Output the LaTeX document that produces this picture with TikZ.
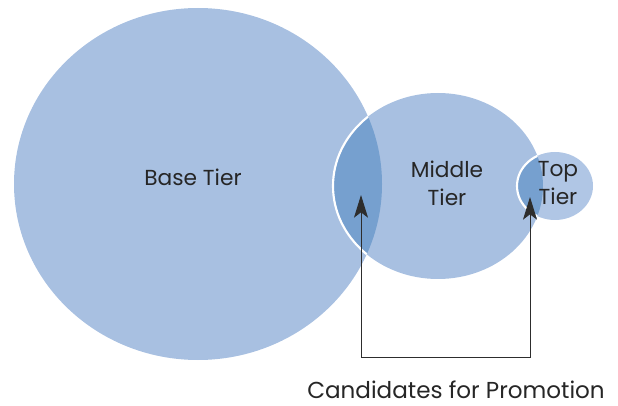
\documentclass[tikz,border=0pt]{standalone}
\usepackage{fontspec}
\setmainfont{Poppins}
\usetikzlibrary{arrows.meta}
\definecolor{tierfill}{RGB}{168,192,225}
\definecolor{topfill}{RGB}{176,198,229}
\definecolor{overlapfill}{RGB}{118,160,207}
\definecolor{linegray}{RGB}{45,45,45}
\tikzset{
  tierlabel/.style={font=\fontsize{16.3}{21}\selectfont, text=black!85, align=center, inner sep=0pt},
  promolabel/.style={font=\fontsize{17.3}{21}\selectfont, text=black!85, inner sep=0pt},
  edgering/.style={draw=white, line width=1.6pt},
  promoline/.style={draw=linegray, line width=0.7pt,
    {Stealth[length=17pt,width=10.5pt,inset=4pt]}-{Stealth[length=17pt,width=10.5pt,inset=4pt]}},
}
\begin{document}
\begin{tikzpicture}[x=0.75pt,y=0.75pt]
\useasboundingbox (0,0) rectangle (618,-406);
% tier shapes
\def\basepath{(198,-184) ellipse [x radius=184, y radius=176]}
\def\midpath{(438,-186) ellipse [x radius=105, y radius=93]}
\def\toppath{(555,-186) ellipse [x radius=38, y radius=34]}
\fill[tierfill] \basepath;
\fill[tierfill] \midpath;
% base / middle overlap
\begin{scope}
  \clip \basepath;
  \fill[overlapfill] \midpath;
  \draw[edgering] \midpath;
\end{scope}
\fill[topfill] \toppath;
% middle / top overlap
\begin{scope}
  \clip \midpath;
  \fill[overlapfill] \toppath;
  \draw[edgering] \toppath;
\end{scope}
% labels
\node[tierlabel] (base) at (193,-177) {Base Tier};
\node[tierlabel] (middle) at (447,-183) {Middle\\Tier};
\node[tierlabel] (top) at (558,-183) {Top\\Tier};
\node[promolabel] (cand) at (456,-390) {Candidates for Promotion};
% promotion connector
\coordinate (tipL) at (361,-195);
\coordinate (cornerL) at (361,-357);
\coordinate (cornerR) at (530,-357);
\coordinate (tipR) at (530,-197);
\draw[promoline] (tipL) -- (cornerL) -- (cornerR) -- (tipR);
\end{tikzpicture}
\end{document}
